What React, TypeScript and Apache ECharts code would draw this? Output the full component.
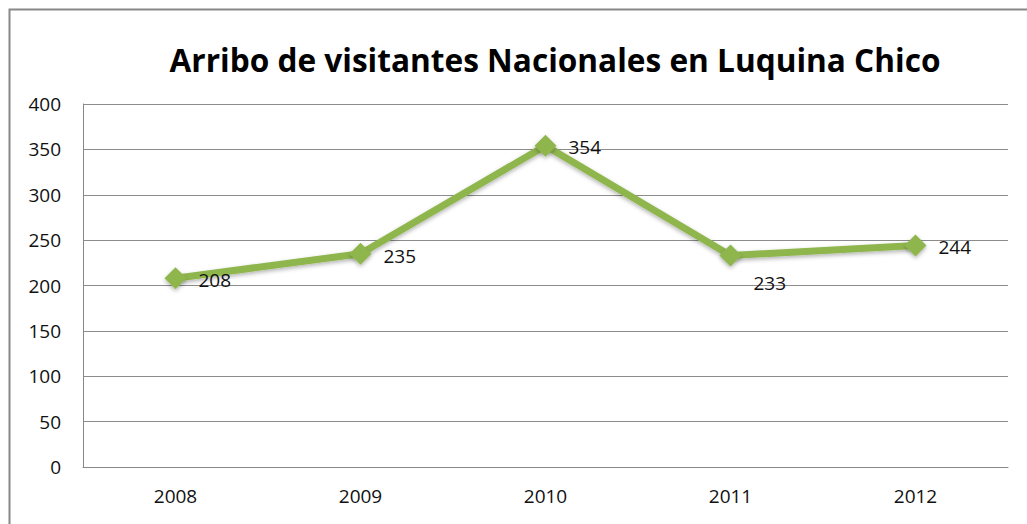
import React, { useEffect, useRef } from "react";
import * as echarts from "echarts";

const title = "Arribo de visitantes Nacionales en Luquina Chico";
const years = ["2008", "2009", "2010", "2011", "2012"];
const visitors = [208, 235, 354, 233, 244];
const labelOffsets: [number, number][] = [[2, 2], [2, 2], [2, 1], [2, 27], [2, 1]];

export default function App() {
  const ref = useRef<HTMLDivElement>(null);
  useEffect(() => {
    if (!ref.current) return;
    const chart = echarts.init(ref.current, undefined, { renderer: "svg" });
    const font = "Open Sans, Liberation Sans, sans-serif";
    chart.setOption({
      animation: false,
      backgroundColor: "#ffffff",
      graphic: [
        {
          type: "rect",
          shape: { x: 9.5, y: 9.5, width: 1100, height: 600 },
          style: { fill: "none", stroke: "#888888", lineWidth: 2 },
          silent: true,
        },
      ],
      title: {
        text: title,
        left: 550,
        textAlign: "center",
        top: 38,
        textStyle: { fontFamily: font, fontWeight: "bold", fontSize: 31.6, color: "#000" },
      },
      grid: { left: 83, right: 19, top: 104, bottom: 57 },
      xAxis: {
        type: "category",
        data: years,
        boundaryGap: true,
        axisLine: { show: true, lineStyle: { color: "#888", width: 1 } },
        axisTick: { show: false },
        axisLabel: { fontFamily: font, fontSize: 19, color: "#111", margin: 19 },
        splitLine: { show: false },
      },
      yAxis: {
        type: "value",
        min: 0,
        max: 400,
        interval: 50,
        axisLine: { show: true, lineStyle: { color: "#888", width: 1 } },
        axisTick: { show: false },
        axisLabel: { fontFamily: font, fontSize: 19, color: "#111", margin: 22 },
        splitLine: { show: true, lineStyle: { color: "#8c8c8c", width: 1 } },
      },
      series: [
        {
          type: "line",
          data: visitors.map((v, i) => ({
            value: v,
            label: { offset: labelOffsets[i] },
          })),
          symbol: "diamond",
          symbolSize: 22,
          lineStyle: {
            color: "#8fb64e",
            width: 7,
            shadowColor: "rgba(0,0,0,0.3)",
            shadowBlur: 4,
            shadowOffsetY: 2,
          },
          itemStyle: {
            color: "#8fb64e",
            shadowColor: "rgba(0,0,0,0.3)",
            shadowBlur: 4,
            shadowOffsetY: 2,
          },
          label: {
            show: true,
            position: "right",
            distance: 10,
            fontFamily: font,
            fontSize: 19,
            color: "#111",
          },
        },
      ],
    });
    return () => chart.dispose();
  }, []);
  return (
    <div
      ref={ref}
      style={{ position: "fixed", left: 0, top: 0, width: 1027, height: 524 }}
    />
  );
}
